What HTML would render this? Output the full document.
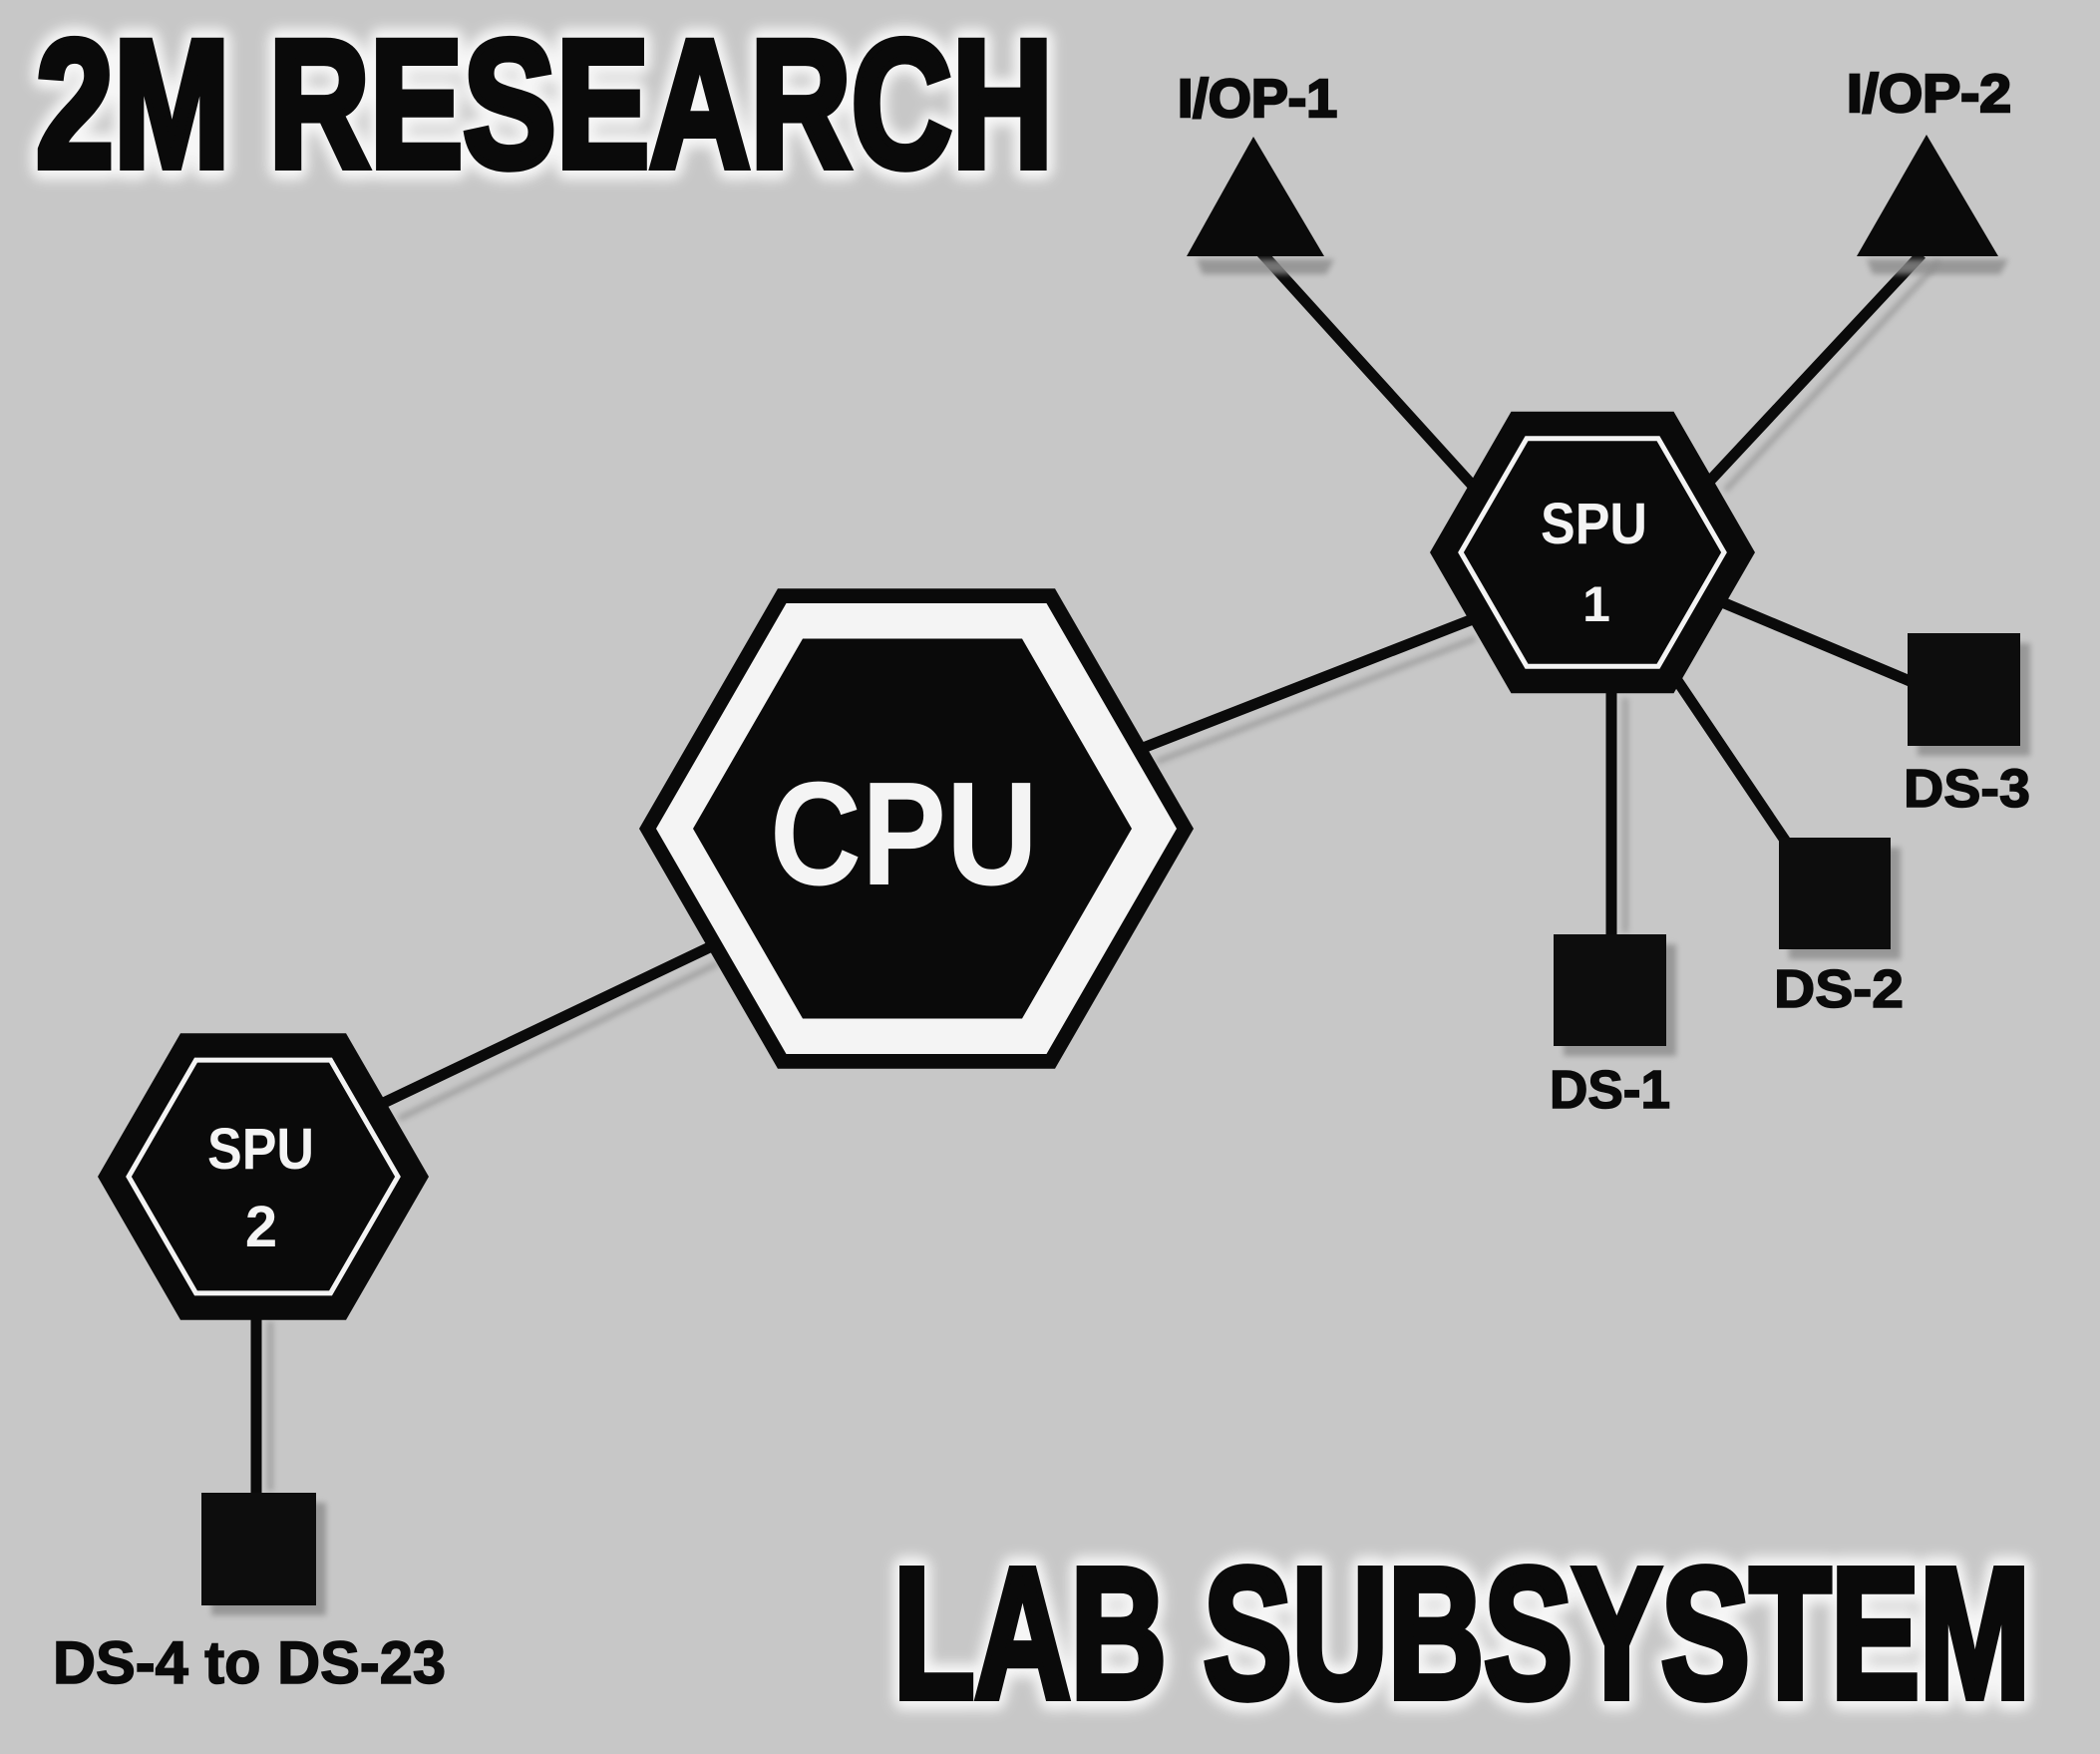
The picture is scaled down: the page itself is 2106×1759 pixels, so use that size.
<!DOCTYPE html>
<html>
<head>
<meta charset="utf-8">
<style>
  html,body{margin:0;padding:0;background:#c7c7c7;}
  svg{display:block;}
</style>
</head>
<body>
<svg xmlns="http://www.w3.org/2000/svg" width="2106" height="1759" viewBox="0 0 2106 1759">
  <defs>
    <filter id="halo" x="-10%" y="-40%" width="120%" height="180%">
      <feGaussianBlur stdDeviation="6"/>
    </filter>
    <filter id="sh" x="-20%" y="-20%" width="140%" height="140%">
      <feGaussianBlur stdDeviation="3"/>
    </filter>
  </defs>

  <!-- background -->
  <rect x="0" y="0" width="2106" height="1759" fill="#c7c7c7"/>

  <!-- shadow lines -->
  <g stroke="#9a9a9a" stroke-width="6" fill="none" filter="url(#sh)" opacity="0.8">
    <line x1="1160" y1="764" x2="1480" y2="640"/>
    <line x1="400" y1="1122" x2="720" y2="966"/>
    <line x1="1630" y1="700" x2="1630" y2="935"/>
    <line x1="271" y1="1325" x2="271" y2="1495"/>
    <line x1="1945" y1="262" x2="1730" y2="492"/>
  </g>

  <!-- connector lines -->
  <g stroke="#0a0a0a" stroke-width="11" fill="none" stroke-linecap="butt">
    <line x1="1262" y1="250" x2="1505" y2="518"/>
    <line x1="1927" y1="255" x2="1700" y2="498"/>
    <line x1="1100" y1="768" x2="1500" y2="612"/>
    <line x1="370" y1="1113" x2="720" y2="946"/>
    <line x1="1616" y1="680" x2="1616" y2="945"/>
    <line x1="1675" y1="672" x2="1795" y2="850"/>
    <line x1="1720" y1="601" x2="1920" y2="685"/>
    <line x1="257" y1="1310" x2="257" y2="1505"/>
  </g>

  <!-- square shadows -->
  <g fill="#8c8c8c" filter="url(#sh)" opacity="0.8">
    <rect x="1923" y="645" width="113" height="113"/>
    <rect x="1794" y="850" width="112" height="112"/>
    <rect x="1568" y="947" width="113" height="112"/>
    <rect x="212" y="1507" width="115" height="113"/>
    <polygon points="1200,260 1338,260 1330,275 1206,275"/>
    <polygon points="1872,260 2014,260 2006,275 1878,275"/>
  </g>

  <!-- triangles -->
  <polygon points="1257,137 1328,257 1190,257" fill="#0a0a0a"/>
  <polygon points="1932,135 2004,257 1862,257" fill="#0a0a0a"/>

  <!-- squares -->
  <g fill="#0d0d0d">
    <rect x="1913" y="635" width="113" height="113"/>
    <rect x="1784" y="840" width="112" height="112"/>
    <rect x="1558" y="937" width="113" height="112"/>
    <rect x="202" y="1497" width="115" height="113"/>
  </g>

  <!-- CPU hexagon -->
  <polygon points="1197,831 1058,1071.7 780,1071.7 641,831 780,590.3 1058,590.3" fill="#0a0a0a"/>
  <polygon points="1180,831 1049.5,1057 788.5,1057 658,831 788.5,605 1049.5,605" fill="#f4f4f4"/>
  <polygon points="1135,831 1025,1021.5 805,1021.5 695,831 805,640.5 1025,640.5" fill="#0a0a0a"/>

  <!-- SPU1 hexagon -->
  <polygon points="1760,554 1678.5,695.2 1515.5,695.2 1434,554 1515.5,412.8 1678.5,412.8" fill="#0a0a0a"/>
  <polygon points="1729,554 1663,668.3 1531,668.3 1465,554 1531,439.7 1663,439.7" fill="#0a0a0a" stroke="#f4f4f4" stroke-width="5"/>

  <!-- SPU2 hexagon -->
  <polygon points="430,1180 347,1323.8 181,1323.8 98,1180 181,1036.2 347,1036.2" fill="#0a0a0a"/>
  <polygon points="399,1180 331.5,1296.9 196.5,1296.9 129,1180 196.5,1063.1 331.5,1063.1" fill="#0a0a0a" stroke="#f4f4f4" stroke-width="5"/>

  <!-- node texts -->
  <g font-family="'Liberation Sans', 'DejaVu Sans', sans-serif" font-weight="bold" fill="#f4f4f4">
    <text x="772" y="887" font-size="148" textLength="269" lengthAdjust="spacingAndGlyphs">CPU</text>
    <text x="1545" y="545" font-size="58" textLength="107" lengthAdjust="spacingAndGlyphs">SPU</text>
    <text x="1601" y="623" font-size="50" text-anchor="middle">1</text>
    <text x="208" y="1172" font-size="58" textLength="107" lengthAdjust="spacingAndGlyphs">SPU</text>
    <text x="262" y="1250" font-size="58" text-anchor="middle">2</text>
  </g>

  <!-- DS labels -->
  <g font-family="'Liberation Sans', 'DejaVu Sans', sans-serif" font-weight="bold" fill="#0a0a0a" stroke="#0a0a0a" stroke-width="1.5">
    <text x="1909" y="809" font-size="54" textLength="127" lengthAdjust="spacingAndGlyphs">DS-3</text>
    <text x="1779" y="1010" font-size="54" textLength="130" lengthAdjust="spacingAndGlyphs">DS-2</text>
    <text x="1554" y="1111" font-size="54" textLength="121" lengthAdjust="spacingAndGlyphs">DS-1</text>
    <text x="53" y="1688" font-size="60" textLength="394" lengthAdjust="spacingAndGlyphs">DS-4 to DS-23</text>
  </g>

  <!-- I/OP labels -->
  <g font-family="'Liberation Sans Narrow', 'Liberation Sans', sans-serif" font-weight="bold" fill="#0a0a0a" stroke="#0a0a0a" stroke-width="2.5">
    <text x="1181" y="117" font-size="54" textLength="160" lengthAdjust="spacingAndGlyphs">I/OP-1</text>
    <text x="1852" y="112" font-size="54" textLength="165" lengthAdjust="spacingAndGlyphs">I/OP-2</text>
  </g>

  <!-- Titles with white halo -->
  <g font-family="'Liberation Sans Narrow', 'Liberation Sans', sans-serif" font-weight="bold">
    <g filter="url(#halo)" fill="#ffffff" stroke="#ffffff" stroke-width="26" stroke-linejoin="round" opacity="0.85">
      <text x="36" y="167" font-size="182" textLength="1020" lengthAdjust="spacingAndGlyphs">2M RESEARCH</text>
      <text x="896" y="1702" font-size="186" textLength="1140" lengthAdjust="spacingAndGlyphs">LAB SUBSYSTEM</text>
    </g>
    <g fill="#0a0a0a" stroke="#0a0a0a" stroke-width="8" stroke-linejoin="miter">
      <text x="36" y="167" font-size="182" textLength="1020" lengthAdjust="spacingAndGlyphs">2M RESEARCH</text>
      <text x="896" y="1702" font-size="186" textLength="1140" lengthAdjust="spacingAndGlyphs">LAB SUBSYSTEM</text>
    </g>
  </g>
</svg>
</body>
</html>
